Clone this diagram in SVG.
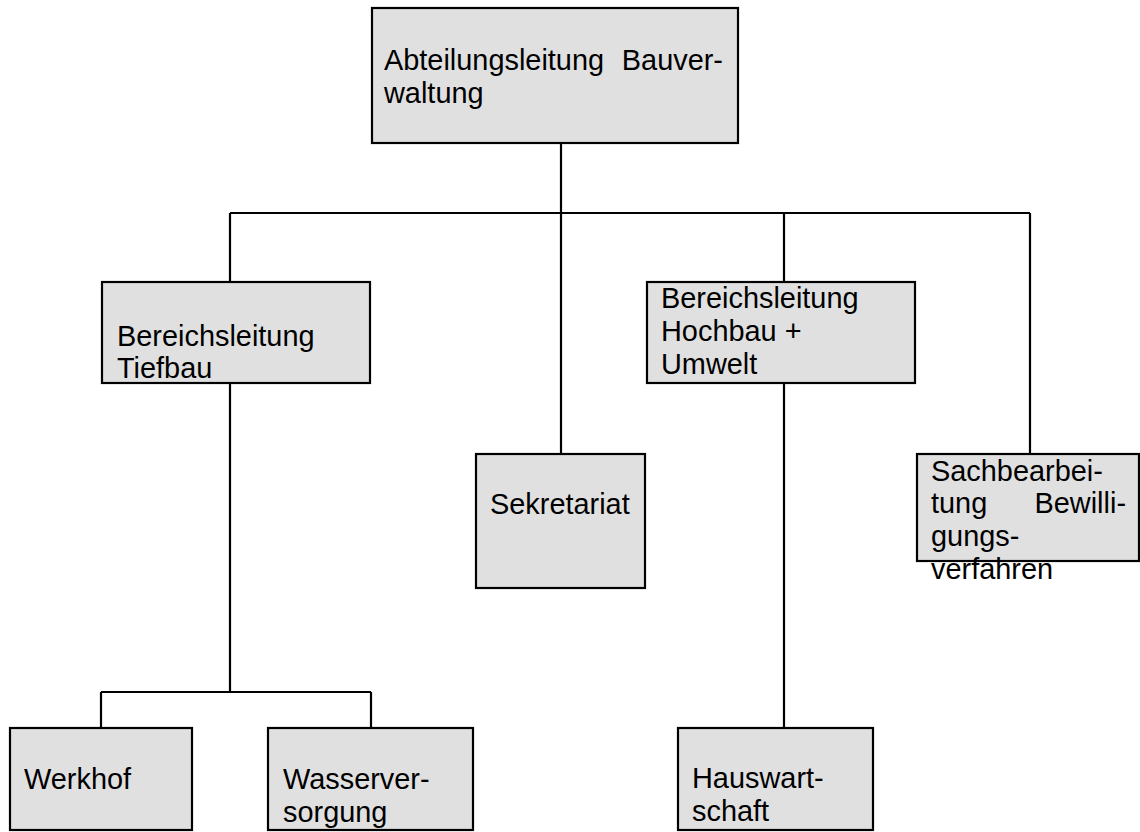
<svg xmlns="http://www.w3.org/2000/svg" width="1140" height="832" viewBox="0 0 1140 832">
<style>
.box{fill:#e0e0e0;stroke:#000;stroke-width:2.2}
.lbl{font-family:"Liberation Sans",Arial,sans-serif;font-size:28.9px;fill:#000}
.con{fill:none;stroke:#000;stroke-width:2.2}
</style>
<rect width="1140" height="832" fill="#fff"/>
<g id="connectors" class="con">
<path d="M561,143V213M230,213H1030M230,213V282M561,213V454M784,213V282M1030,213V454"/>
<path d="M230,383V692M101,692H371M101,692V728M371,692V728"/>
<path d="M784,384V728"/>
</g>
<g id="n-abteilung">
<rect class="box" x="372" y="8" width="366" height="135"/>
<text class="lbl" x="384" y="70">Abteilungsleitung</text>
<text class="lbl" x="723" y="70" text-anchor="end">Bauver-</text>
<text class="lbl" x="384" y="103">waltung</text>
</g>
<g id="n-tiefbau">
<rect class="box" x="102" y="282" width="268" height="101"/>
<text class="lbl" x="117" y="346">Bereichsleitung</text>
<text class="lbl" x="117" y="378">Tiefbau</text>
</g>
<g id="n-hochbau">
<rect class="box" x="647" y="282" width="268" height="101"/>
<text class="lbl" x="661" y="308">Bereichsleitung</text>
<text class="lbl" x="661" y="341">Hochbau +</text>
<text class="lbl" x="661" y="374">Umwelt</text>
</g>
<g id="n-sekretariat">
<rect class="box" x="476" y="454" width="169" height="134"/>
<text class="lbl" x="490" y="514">Sekretariat</text>
</g>
<g id="n-sachbearbeitung">
<rect class="box" x="917" y="454" width="222" height="107"/>
<text class="lbl" x="931" y="481">Sachbearbei-</text>
<text class="lbl" x="931" y="513">tung</text>
<text class="lbl" x="1126" y="513" text-anchor="end">Bewilli-</text>
<text class="lbl" x="931" y="546">gungs-</text>
<text class="lbl" x="931" y="579">verfahren</text>
</g>
<g id="n-werkhof">
<rect class="box" x="10" y="728" width="182" height="102"/>
<text class="lbl" x="24" y="789">Werkhof</text>
</g>
<g id="n-wasserversorgung">
<rect class="box" x="268" y="728" width="205" height="102"/>
<text class="lbl" x="283" y="789">Wasserver-</text>
<text class="lbl" x="283" y="822">sorgung</text>
</g>
<g id="n-hauswartschaft">
<rect class="box" x="678" y="728" width="195" height="102"/>
<text class="lbl" x="692" y="788">Hauswart-</text>
<text class="lbl" x="692" y="821">schaft</text>
</g>
</svg>
